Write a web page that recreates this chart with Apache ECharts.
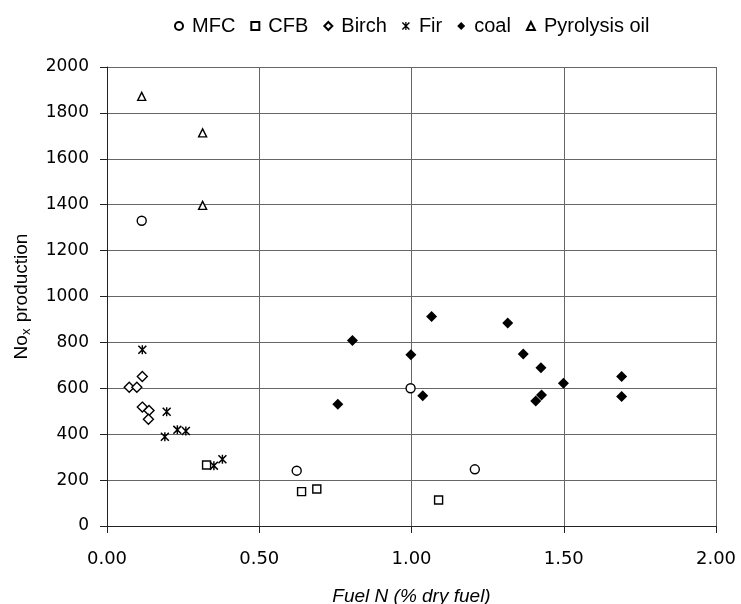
<!DOCTYPE html>
<html>
<head>
<meta charset="utf-8">
<script src="https://cdn.jsdelivr.net/npm/echarts@6/dist/echarts.min.js"></script>
<style>
  html, body { margin: 0; padding: 0; background: #fff; }
  #chart { width: 741px; height: 604px; }
</style>
</head>
<body>
<div id="chart"></div>
<script>
// values
const mfcX = [0.114, 0.623, 0.997, 1.208]
const mfcY = [1330, 241, 600, 247]

const cfbX = [0.327, 0.639, 0.689, 1.089]
const cfbY = [266, 150, 161, 113]

const birchX = [0.073, 0.098, 0.116, 0.116, 0.138, 0.136]
const birchY = [605, 605, 651, 518, 503, 465]

const firX = [0.116, 0.196, 0.190, 0.231, 0.259, 0.351, 0.379]
const firY = [768, 498, 389, 419, 414, 263, 291]

const coalX = [0.758, 0.806, 0.998, 1.037, 1.066, 1.316, 1.367, 1.425, 1.408, 1.427, 1.499, 1.690, 1.690]
const coalY = [531, 808, 746, 567, 913, 884, 750, 689, 545, 571, 622, 651, 564]

const pyroX = [0.114, 0.314, 0.314]
const pyroY = [1872, 1713, 1397]

const xTicks = [0, 0.5, 1, 1.5, 2]

const zip = (xs, ys) => xs.map((x, i) => [x, ys[i]])

const font = '"Liberation Sans", Arial, sans-serif'
const numFont = '"DejaVu Sans", sans-serif'
// little asterisk for the Fir points
const asterisk = 'path://M4.2 0L5.8 0L5.8 10L4.2 10Z M0 1.2L1.2 0L10 8.8L8.8 10Z M8.8 0L10 1.2L1.2 10L0 8.8Z'

const open = { color: '#fff', borderColor: '#000', borderWidth: 1.4, opacity: 1 }
const solid = { color: '#000', opacity: 1 }

const chart = echarts.init(document.getElementById('chart'))

chart.setOption({
  animation: false,
  textStyle: { fontFamily: font, color: '#000' },
  legend: {
    top: 11,
    left: 169,
    itemWidth: 8,
    itemHeight: 8,
    itemGap: 15,
    textStyle: { fontSize: 20, color: '#000', fontFamily: font, padding: [0, 0, 0, 4] },
    data: ['MFC', 'CFB', 'Birch', 'Fir', 'coal', 'Pyrolysis oil']
  },
  grid: { left: 107, right: 25, top: 67, bottom: 78, outerBoundsMode: 'none' },
  xAxis: {
    type: 'value',
    min: 0,
    max: 2,
    interval: 0.5,
    name: 'Fuel N (% dry fuel)',
    nameLocation: 'middle',
    nameGap: 61,
    nameTextStyle: { fontSize: 19, fontStyle: 'italic', color: '#000', fontFamily: font },
    axisLine: { lineStyle: { color: '#222', width: 1 } },
    axisTick: { show: true, length: 7, lineStyle: { color: '#222' } },
    axisLabel: {
      fontSize: 18,
      fontFamily: numFont,
      color: '#000',
      margin: 24,
      formatter: v => xTicks.includes(v) ? v.toFixed(2) : ''
    },
    splitLine: { show: true, lineStyle: { color: '#666', width: 1 } }
  },
  yAxis: {
    type: 'value',
    min: 0,
    max: 2000,
    interval: 200,
    name: 'No{sub|x} production',
    nameLocation: 'middle',
    nameGap: 74,
    nameTextStyle: {
      fontSize: 19,
      color: '#000',
      fontFamily: font,
      rich: { sub: { fontSize: 13, fontFamily: font, verticalAlign: 'bottom', padding: [9, 1, 0, 0] } }
    },
    axisLine: { show: true, lineStyle: { color: '#222', width: 1 } },
    axisTick: { show: true, length: 7, lineStyle: { color: '#222' } },
    axisLabel: {
      fontSize: 17,
      fontFamily: numFont,
      color: '#000',
      margin: 18,
      padding: [6, 0, 0, 0],
      formatter: v => String(v)
    },
    splitLine: { show: true, lineStyle: { color: '#666', width: 1 } }
  },
  series: [
    { name: 'MFC', type: 'scatter', symbol: 'circle', symbolSize: 9, itemStyle: open, data: zip(mfcX, mfcY) },
    { name: 'CFB', type: 'scatter', symbol: 'rect', symbolSize: 8, itemStyle: open, data: zip(cfbX, cfbY) },
    { name: 'Birch', type: 'scatter', symbol: 'diamond', symbolSize: 10, itemStyle: open, data: zip(birchX, birchY) },
    { name: 'Fir', type: 'scatter', symbol: asterisk, symbolSize: 9, itemStyle: solid, data: zip(firX, firY) },
    { name: 'coal', type: 'scatter', symbol: 'diamond', symbolSize: 11, itemStyle: solid, data: zip(coalX, coalY) },
    { name: 'Pyrolysis oil', type: 'scatter', symbol: 'triangle', symbolSize: 8, itemStyle: open, data: zip(pyroX, pyroY) }
  ]
})
</script>
</body>
</html>
